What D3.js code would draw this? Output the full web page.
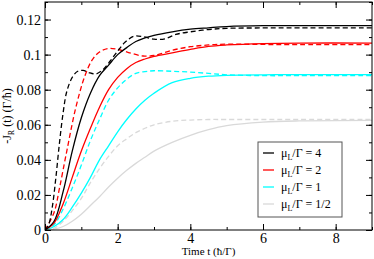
<!DOCTYPE html>
<html>
<head>
<meta charset="utf-8">
<script src="https://cdn.jsdelivr.net/npm/d3@7"></script>
<style>
  body { margin: 0; background: #fff; }
  svg text { font-family: "Liberation Serif", "Tinos", "Times New Roman", "DejaVu Serif", serif; }
</style>
</head>
<body>
<div id="chart"></div>
<script>
// time grids
const tCommon = [0, 0.25, 0.5, 0.75, 1, 1.25, 1.5, 1.75, 2, 2.25, 2.5, 2.75, 3, 3.5, 4, 4.5, 5, 6, 7, 9];
const tBlackDash = [0, 0.1, 0.2, 0.3, 0.4, 0.5, 0.6, 0.75, 0.9, 1.05, 1.2, 1.4, 1.6, 1.8, 2.0, 2.2, 2.45, 2.7, 3.0, 3.3, 3.6, 4.0, 4.5, 5, 6, 7, 9];
const tRedDash = [0, 0.25, 0.4, 0.6, 0.85, 1.1, 1.3, 1.5, 1.75, 2.0, 2.3, 2.7, 3.0, 3.5, 4, 4.5, 5, 6, 7, 9];

// -J_R(t) values
const black = [0, 0.005, 0.022, 0.045, 0.064, 0.078, 0.088, 0.094, 0.100, 0.104, 0.1075, 0.1095, 0.111, 0.113, 0.1145, 0.1153, 0.116, 0.1165, 0.1165, 0.1165];
const blackDash = [0, 0.003, 0.013, 0.030, 0.050, 0.067, 0.079, 0.087, 0.0905, 0.091, 0.0898, 0.089, 0.0915, 0.0965, 0.102, 0.107, 0.1105, 0.1102, 0.1088, 0.109, 0.1115, 0.113, 0.1143, 0.115, 0.1152, 0.1152, 0.1152];
const red = [0, 0.004, 0.015, 0.030, 0.045, 0.058, 0.070, 0.080, 0.087, 0.092, 0.0955, 0.0975, 0.099, 0.101, 0.103, 0.1047, 0.1055, 0.1063, 0.1066, 0.1066];
const redDash = [0, 0.010, 0.024, 0.045, 0.070, 0.088, 0.097, 0.1015, 0.1035, 0.103, 0.1012, 0.0992, 0.0995, 0.1025, 0.1045, 0.1055, 0.106, 0.1058, 0.1057, 0.1057];
const cyan = [0, 0.002, 0.006, 0.013, 0.021, 0.030, 0.040, 0.048, 0.056, 0.063, 0.069, 0.074, 0.078, 0.084, 0.0865, 0.0877, 0.0882, 0.0885, 0.0886, 0.0886];
const cyanDash = [0, 0.003, 0.012, 0.024, 0.037, 0.051, 0.063, 0.074, 0.081, 0.086, 0.0893, 0.0903, 0.0908, 0.0905, 0.090, 0.0893, 0.0885, 0.088, 0.088, 0.088];
const gray = [0, 0.0005, 0.002, 0.005, 0.009, 0.014, 0.019, 0.0245, 0.0295, 0.034, 0.038, 0.0415, 0.045, 0.050, 0.054, 0.0572, 0.0595, 0.0615, 0.0622, 0.0625];
const grayDash = [0, 0.001, 0.005, 0.011, 0.018, 0.027, 0.035, 0.042, 0.048, 0.052, 0.0555, 0.058, 0.060, 0.062, 0.0627, 0.063, 0.063, 0.063, 0.063, 0.063];

const xTicks = [0, 2, 4, 6, 8];
const yTicks = [0, 0.02, 0.04, 0.06, 0.08, 0.1, 0.12];
const yTickLabels = ['0', '0.02', '0.04', '0.06', '0.08', '0.1', '0.12'];
const legendLabels = ['4', '2', '1', '1/2'];

const colors = ['#000000', '#ff0000', '#00ffff', '#d9d9d9'];
const serif = '"Liberation Serif", "Tinos", "Times New Roman", "DejaVu Serif", serif';

const series = [
  { t: tCommon, v: black, c: 0, dash: false },
  { t: tBlackDash, v: blackDash, c: 0, dash: true },
  { t: tCommon, v: red, c: 1, dash: false },
  { t: tRedDash, v: redDash, c: 1, dash: true },
  { t: tCommon, v: cyan, c: 2, dash: false },
  { t: tCommon, v: cyanDash, c: 2, dash: true },
  { t: tCommon, v: gray, c: 3, dash: false },
  { t: tCommon, v: grayDash, c: 3, dash: true }
];

const svgWidth = 374;
const svgHeight = 259;
const margin = { top: 2, right: 2, bottom: 29, left: 45 };
const width = svgWidth - margin.left - margin.right;
const height = svgHeight - margin.top - margin.bottom;

const svg = d3.select('#chart')
  .append('svg')
  .attr('width', svgWidth)
  .attr('height', svgHeight)
  .attr('font-family', serif);

const g = svg.append('g')
  .attr('transform', `translate(${margin.left}, ${margin.top})`);

const xScale = d3.scaleLinear().domain([0, 9]).range([0, width]);
const yScale = d3.scaleLinear().domain([0, 0.13]).range([height, 0]);

// clip lines to plot area
g.append('clipPath').attr('id', 'clip')
  .append('rect').attr('width', width).attr('height', height);

const line = d3.line()
  .x(d => xScale(d[0]))
  .y(d => yScale(d[1]))
  .curve(d3.curveCatmullRom.alpha(0.5));

// draw lighter ones first so black ends up on top
const order = [6, 7, 4, 5, 2, 3, 0, 1];
g.append('g').attr('clip-path', 'url(#clip)')
  .selectAll('path')
  .data(order.map(i => series[i]))
  .enter()
  .append('path')
  .attr('d', s => line(s.t.map((t, i) => [t, s.v[i]])))
  .attr('fill', 'none')
  .attr('stroke', s => colors[s.c])
  .attr('stroke-width', 1.3)
  .attr('stroke-dasharray', s => s.dash ? '5,3' : null);

// ticks (inward) on all four sides
const minorX = d3.range(0, 10, 1);
const minorY = d3.range(0, 0.1301, 0.01);

function styleAxis(sel) {
  sel.attr('font-family', serif).attr('font-size', 14);
  sel.select('.domain').remove();
  sel.selectAll('line').attr('stroke', '#000').attr('stroke-width', 1);
  sel.selectAll('text').attr('fill', '#000');
}

g.append('g').attr('transform', `translate(0, ${height})`)
  .call(d3.axisBottom(xScale).tickValues(minorX).tickSize(-3).tickFormat(''))
  .call(styleAxis);
g.append('g').attr('transform', `translate(0, ${height})`)
  .call(d3.axisBottom(xScale).tickValues(xTicks).tickSize(-6).tickPadding(3).tickFormat(d3.format('d')))
  .call(styleAxis);
g.append('g')
  .call(d3.axisTop(xScale).tickValues(minorX).tickSize(-3).tickFormat(''))
  .call(styleAxis);
g.append('g')
  .call(d3.axisTop(xScale).tickValues(xTicks).tickSize(-6).tickFormat(''))
  .call(styleAxis);

g.append('g')
  .call(d3.axisLeft(yScale).tickValues(minorY).tickSize(-3).tickFormat(''))
  .call(styleAxis);
g.append('g')
  .call(d3.axisLeft(yScale).tickValues(yTicks).tickSize(-6).tickPadding(4)
    .tickFormat((d, i) => yTickLabels[i]))
  .call(styleAxis);
g.append('g').attr('transform', `translate(${width}, 0)`)
  .call(d3.axisRight(yScale).tickValues(minorY).tickSize(-3).tickFormat(''))
  .call(styleAxis);
g.append('g').attr('transform', `translate(${width}, 0)`)
  .call(d3.axisRight(yScale).tickValues(yTicks).tickSize(-6).tickFormat(''))
  .call(styleAxis);

// frame
g.append('rect')
  .attr('width', width)
  .attr('height', height)
  .attr('fill', 'none')
  .attr('stroke', '#000')
  .attr('stroke-width', 1);

// axis titles
g.append('text')
  .attr('x', width / 2)
  .attr('y', height + 25)
  .attr('text-anchor', 'middle')
  .attr('font-size', 11)
  .text('Time t (ħ/Γ)');

const yLab = g.append('text')
  .attr('transform', `translate(${-34}, ${height / 2}) rotate(-90)`)
  .attr('text-anchor', 'middle')
  .attr('font-size', 12);
yLab.append('tspan').text('-J');
yLab.append('tspan').attr('dy', 3).attr('font-size', 8).text('R');
yLab.append('tspan').attr('dy', -3).text(' (t) (Γ/ħ)');

// legend
const legend = svg.append('g').attr('transform', 'translate(258, 142)');
legend.append('rect')
  .attr('width', 84)
  .attr('height', 75)
  .attr('fill', '#fff')
  .attr('stroke', '#555')
  .attr('stroke-width', 1);

const items = legend.selectAll('g.item')
  .data(legendLabels)
  .enter()
  .append('g')
  .attr('class', 'item')
  .attr('transform', (d, i) => `translate(0, ${11 + i * 17})`);

items.append('line')
  .attr('x1', 5).attr('x2', 16)
  .attr('y1', 0).attr('y2', 0)
  .attr('stroke', (d, i) => colors[i])
  .attr('stroke-width', 1.3);

const itemText = items.append('text')
  .attr('x', 23)
  .attr('y', 4)
  .attr('font-size', 12);
itemText.append('tspan').text('μ');
itemText.append('tspan').attr('dy', 3).attr('font-size', 8).text('L');
itemText.append('tspan').attr('dy', -3).text(d => `/Γ = ${d}`);
</script>
</body>
</html>
